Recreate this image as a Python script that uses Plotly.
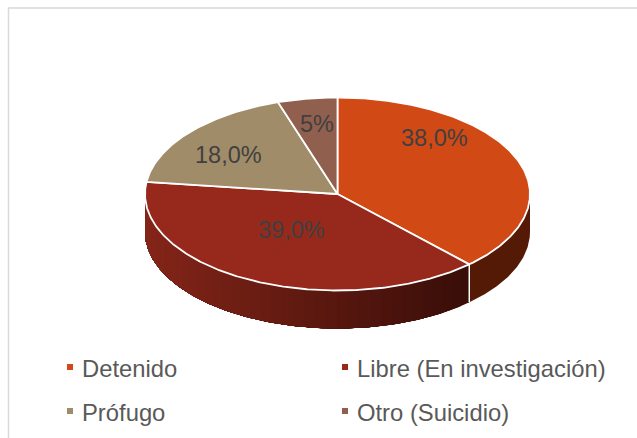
import math
import plotly.graph_objects as go

categories = ["Detenido", "Libre (En investigación)", "Prófugo", "Otro (Suicidio)"]
values = [38.0, 39.0, 18.0, 5.0]
value_labels = ["38,0%", "39,0%", "18,0%", "5%"]
colors = ["#D14915", "#96291C", "#A08C68", "#915F4E"]

W, H = 637, 438
CX, CY, RX, RY, DEPTH = 337.5, 194.0, 192.5, 96.5, 38.0
label_pos = [(434, 138), (291, 230), (228, 155), (317, 124)]
legend_pos = [(70, 367), (345, 367), (70, 411), (345, 411)]
FONT = "Liberation Sans, Arial, sans-serif"


def pt(theta_deg, dy=0.0):
    t = math.radians(theta_deg)
    return CX + RX * math.sin(t), CY - RY * math.cos(t) + dy


def mix(a, b, f):
    return "rgb(%d,%d,%d)" % tuple(round(a[i] + (b[i] - a[i]) * f) for i in range(3))


total = sum(values)
bounds = [0.0]
for v in values:
    bounds.append(bounds[-1] + v / total * 360)

fig = go.Figure()


def add_strip(t0, t1, color):
    n = max(2, int(abs(t1 - t0)) * 2 + 2)
    ts = [t0 + (t1 - t0) * i / (n - 1) for i in range(n)]
    top = [pt(t) for t in ts]
    bot = [pt(t, DEPTH) for t in reversed(ts)]
    xs = [p[0] for p in top + bot] + [top[0][0]]
    ys = [p[1] for p in top + bot] + [top[0][1]]
    fig.add_trace(go.Scatter(x=xs, y=ys, mode="lines", fill="toself", fillcolor=color,
                             line=dict(width=0), hoverinfo="skip", showlegend=False))


# side wall: Detenido part
add_strip(90, bounds[1] + 0.5, "#541A06")
# side wall: Libre part, gradient by horizontal position; each band is painted over the previous one
steps = 40
for i in range(steps):
    a = bounds[1] + (270 - bounds[1]) * i / steps
    xm = pt(a + (270 - bounds[1]) / steps / 2)[0]
    f = (pt(bounds[1])[0] - xm) / (pt(bounds[1])[0] - (CX - RX))
    add_strip(a, 270, mix((0x38, 0x0D, 0x08), (0x84, 0x25, 0x18), f))

# white line between side parts
sx, sy = pt(bounds[1])
fig.add_trace(go.Scatter(x=[sx, sx], y=[sy, sy + DEPTH], mode="lines",
                         line=dict(color="white", width=1.5), hoverinfo="skip", showlegend=False))

# top face
for i, name in enumerate(categories):
    a, b = bounds[i], bounds[i + 1]
    n = int(b - a) * 2 + 2
    arc = [pt(a + (b - a) * k / (n - 1)) for k in range(n)]
    xs = [CX] + [p[0] for p in arc] + [CX]
    ys = [CY] + [p[1] for p in arc] + [CY]
    fig.add_trace(go.Scatter(x=xs, y=ys, mode="lines", fill="toself", fillcolor=colors[i], name=name,
                             line=dict(color="white", width=1.8), showlegend=False,
                             hovertemplate=name + ": " + value_labels[i] + "<extra></extra>"))

annotations = []
for lab, (x, y) in zip(value_labels, label_pos):
    annotations.append(dict(x=x, y=y, xref="x", yref="y", text=lab, showarrow=False,
                            font=dict(family=FONT, size=23.5, color="#404040")))
shapes = [
    dict(type="line", x0=8.5, x1=8.5, y0=8, y1=H, xref="x", yref="y", line=dict(color="#D9D9D9", width=1.5)),
    dict(type="line", x0=8, x1=W, y0=8, y1=8, xref="x", yref="y", line=dict(color="#D9D9D9", width=1.5)),
]
for name, col, (x, y) in zip(categories, colors, legend_pos):
    shapes.append(dict(type="rect", x0=x - 3, x1=x + 3, y0=y - 3, y1=y + 3, xref="x", yref="y",
                       fillcolor=col, line=dict(width=0)))
    annotations.append(dict(x=x + 10, y=y + 1, xref="x", yref="y", text=name, showarrow=False, xanchor="left",
                            font=dict(family=FONT, size=23.8, color="#595959")))

fig.update_layout(
    width=W, height=H, margin=dict(l=0, r=0, t=0, b=0),
    paper_bgcolor="white", plot_bgcolor="white", showlegend=False,
    xaxis=dict(range=[0, W], visible=False, fixedrange=True),
    yaxis=dict(range=[H, 0], visible=False, fixedrange=True),
    annotations=annotations, shapes=shapes,
)
fig.write_html("out.html", config=dict(displayModeBar=False),
               post_script="document.body.style.margin='0';document.body.style.overflow='hidden';")
